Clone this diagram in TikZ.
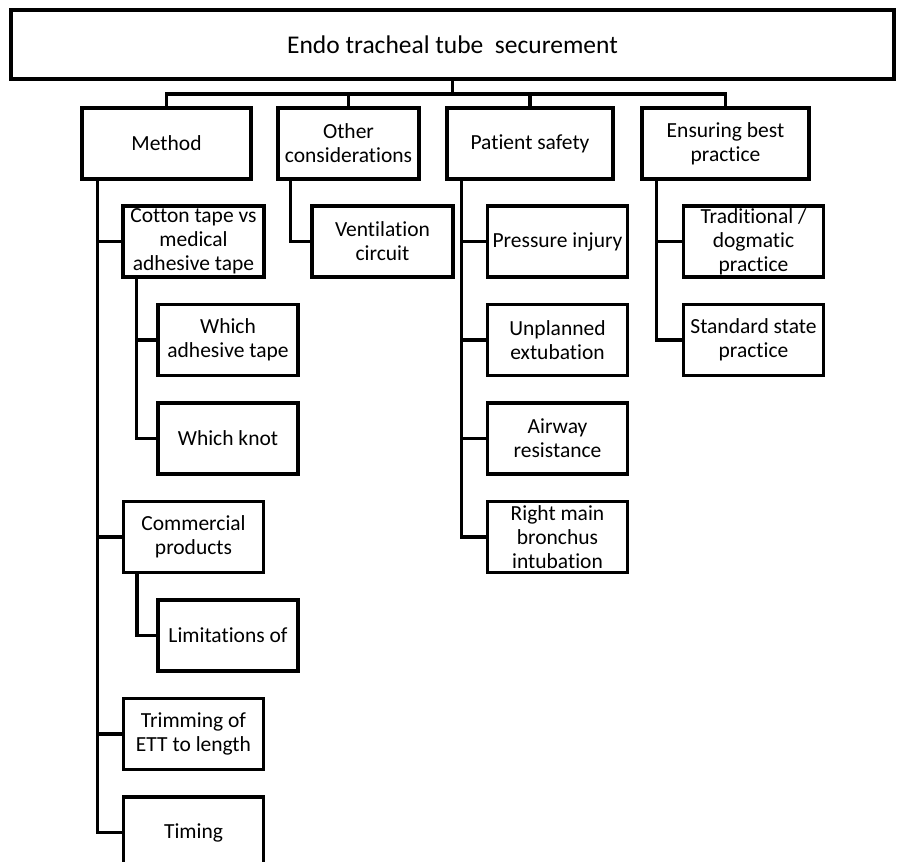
\documentclass[tikz,border=0pt]{standalone}
\usepackage{fontspec}
\setmainfont{Carlito}[Ligatures=NoCommon]
\begin{document}
\begin{tikzpicture}[x=1pt,y=-1pt,
  box/.style={draw=black, line width=3.2pt, fill=white, inner sep=0pt, align=center,
    font=\fontsize{21.5}{24}\selectfont, minimum height=71pt},
  lvl/.style={box},
  leaf/.style={box, minimum width=140pt},
  conn/.style={draw=black, line width=3.2pt, line cap=rect, line join=miter}]
\clip (0,0) rectangle (900,862);
\fill[white] (0,0) rectangle (900,862);

% top
\node[box, minimum width=883pt, minimum height=69pt, font=\fontsize{25.5}{28}\selectfont] (top) at (452.5,44.5) {Endo tracheal tube\ \ securement};

% level 1
\node[lvl, minimum width=169pt] (method) at (166.5,143.5) {Method};
\node[lvl, minimum width=141pt] (other) at (348.5,143.5) {Other\\considerations};
\node[lvl, minimum width=166pt] (patient) at (530,143.5) {Patient safety};
\node[lvl, minimum width=167pt] (best) at (725.5,143.5) {Ensuring best\\practice};

\coordinate (bus) at (452.5,94);
\draw[conn] (top.south) -- (top.south |- bus);
\draw[conn] (method.north) -- (method.north |- bus) -- (best.north |- bus) -- (best.north);
\draw[conn] (other.north) -- (other.north |- bus);
\draw[conn] (patient.north) -- (patient.north |- bus);

% Method children
\node[leaf, minimum width=141pt] (cotton) at (193.5,241.5) {Cotton tape vs\\medical\\adhesive tape};
\node[leaf] (whichtape) at (228,340) {Which\\adhesive tape};
\node[leaf] (knot) at (228,438.5) {Which knot};
\node[leaf] (commercial) at (193.5,537) {Commercial\\products};
\node[leaf] (limits) at (228,635.5) {Limitations of};
\node[leaf] (trim) at (193.5,734) {Trimming of\\ETT to length};
\node[leaf] (timing) at (193.5,832.5) {Timing};

% Other children
\node[leaf, minimum width=141pt] (vent) at (382.5,241.5) {Ventilation\\circuit};

% Patient safety children
\node[leaf] (pressure) at (557.5,241.5) {Pressure injury};
\node[leaf] (unplanned) at (557.5,340) {Unplanned\\extubation};
\node[leaf] (airway) at (557.5,438.5) {Airway\\resistance};
\node[leaf] (rightmain) at (557.5,537) {Right main\\bronchus\\intubation};

% Ensuring best practice children
\node[leaf] (trad) at (753.5,241.5) {Traditional /\\dogmatic\\practice};
\node[leaf] (standard) at (753.5,340) {Standard state\\practice};

% connectors
\coordinate (mx) at ([xshift=17pt]method.south west);
\foreach \c in {cotton,commercial,trim,timing} \draw[conn] (mx) |- (\c.west);
\coordinate (cx) at ([xshift=15pt]cotton.south west);
\foreach \c in {whichtape,knot} \draw[conn] (cx) |- (\c.west);
\coordinate (kx) at ([xshift=15pt]commercial.south west);
\draw[conn] (kx) |- (limits.west);
\coordinate (ox) at ([xshift=14pt]other.south west);
\draw[conn] (ox) |- (vent.west);
\coordinate (px) at ([xshift=16pt]patient.south west);
\foreach \c in {pressure,unplanned,airway,rightmain} \draw[conn] (px) |- (\c.west);
\coordinate (bx) at ([xshift=16pt]best.south west);
\foreach \c in {trad,standard} \draw[conn] (bx) |- (\c.west);
\end{tikzpicture}
\end{document}
